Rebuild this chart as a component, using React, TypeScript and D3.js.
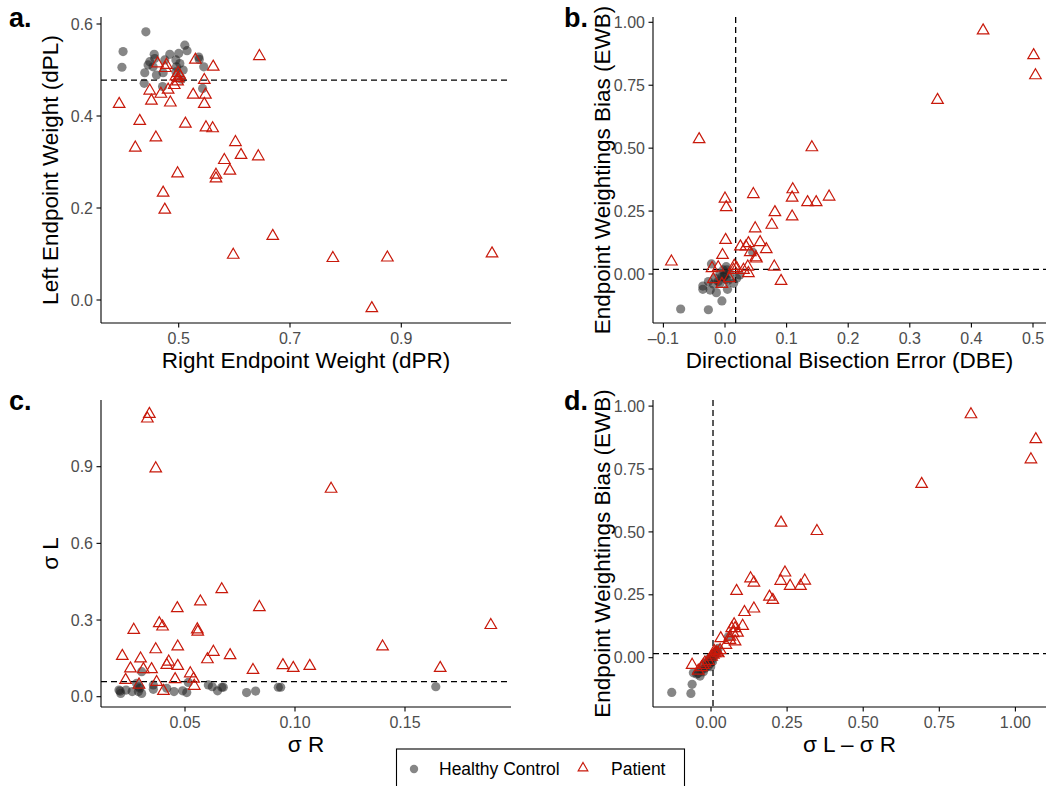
import React from "react";
import * as d3 from "d3";

// ---------- DATA ----------
// Panel a: Right Endpoint Weight (dPR) vs Left Endpoint Weight (dPL)
const aPatients: [number, number][] = [
  [0.645, 0.530], [0.530, 0.522], [0.562, 0.507], [0.462, 0.514], [0.478, 0.511],
  [0.476, 0.504], [0.499, 0.493], [0.499, 0.482], [0.498, 0.475], [0.492, 0.467],
  [0.546, 0.478], [0.448, 0.455], [0.481, 0.457], [0.468, 0.448], [0.526, 0.446],
  [0.548, 0.446], [0.451, 0.433], [0.485, 0.429], [0.546, 0.426], [0.393, 0.426],
  [0.430, 0.389], [0.512, 0.383], [0.549, 0.375], [0.561, 0.373], [0.459, 0.353],
  [0.422, 0.331], [0.602, 0.343], [0.612, 0.315], [0.643, 0.312], [0.582, 0.304],
  [0.592, 0.281], [0.567, 0.272], [0.567, 0.264], [0.498, 0.275], [0.472, 0.233],
  [0.475, 0.196], [0.669, 0.139], [0.598, 0.098], [0.777, 0.091], [0.875, 0.092],
  [1.063, 0.101], [0.847, -0.018], [0.502, 0.488], [0.495, 0.486],
];
const aControls: [number, number][] = [
  [0.441, 0.583], [0.400, 0.540], [0.398, 0.506], [0.456, 0.534], [0.484, 0.534],
  [0.500, 0.536], [0.511, 0.554], [0.515, 0.542], [0.536, 0.528], [0.537, 0.523],
  [0.448, 0.518], [0.445, 0.511], [0.457, 0.525], [0.475, 0.522], [0.495, 0.522],
  [0.496, 0.507], [0.508, 0.500], [0.545, 0.507], [0.439, 0.494], [0.460, 0.489],
  [0.472, 0.494], [0.495, 0.496], [0.505, 0.480], [0.438, 0.471], [0.471, 0.464],
  [0.543, 0.460], [0.454, 0.507], [0.502, 0.514],
];
const aHLine = 0.478;

// Panel b: Directional Bisection Error (DBE) vs Endpoint Weightings Bias (EWB)
const bPatients: [number, number][] = [
  [0.419, 0.967], [0.501, 0.869], [0.504, 0.789], [0.345, 0.691], [-0.042, 0.535],
  [0.141, 0.503], [0.046, 0.317], [0.110, 0.336], [0.109, 0.303], [0.169, 0.307],
  [0.134, 0.285], [0.148, 0.285], [0.000, 0.299], [0.002, 0.265], [0.081, 0.245],
  [0.109, 0.228], [0.076, 0.195], [0.049, 0.181], [0.001, 0.135], [0.025, 0.109],
  [0.038, 0.122], [0.034, 0.109], [0.057, 0.126], [0.067, 0.098], [0.041, 0.086],
  [0.050, 0.066], [0.051, 0.061], [-0.004, 0.075], [-0.087, 0.049], [0.080, 0.029],
  [0.091, -0.028], [0.037, 0.029], [0.038, 0.003], [0.015, 0.032], [0.019, 0.023],
  [0.030, 0.016], [-0.021, 0.023], [-0.011, 0.026], [-0.019, -0.021], [-0.005, -0.040],
  [0.007, -0.017], [0.014, 0.016],
];
const bControls: [number, number][] = [
  [-0.072, -0.139], [-0.027, -0.142], [-0.005, -0.107], [-0.036, -0.048], [-0.036, -0.061],
  [-0.024, -0.064], [-0.014, -0.074], [0.004, -0.061], [-0.022, 0.040], [0.002, 0.029],
  [-0.008, 0.003], [-0.002, -0.011], [0.002, -0.021], [0.014, -0.037], [0.019, -0.017],
  [0.045, 0.086], [-0.016, -0.017], [-0.011, -0.030], [0.008, 0.003], [-0.003, 0.016],
  [-0.008, -0.037], [-0.027, -0.030], [0.005, -0.026], [0.024, -0.004], [-0.005, -0.011],
  [0.000, -0.004], [-0.019, -0.040], [0.003, 0.016],
];
const bVLine = 0.0173;
const bHLine = 0.0185;

// Panel c: sigma R vs sigma L
const cPatients: [number, number][] = [
  [0.0338, 1.106], [0.0329, 1.088], [0.0367, 0.893], [0.1164, 0.813], [0.0667, 0.420],
  [0.0570, 0.372], [0.0465, 0.346], [0.0838, 0.350], [0.0267, 0.261], [0.0383, 0.287],
  [0.0398, 0.274], [0.0556, 0.263], [0.0558, 0.254], [0.189, 0.280], [0.0367, 0.185],
  [0.0467, 0.196], [0.0215, 0.159], [0.0298, 0.149], [0.0426, 0.137], [0.0417, 0.124],
  [0.0629, 0.175], [0.0602, 0.146], [0.0705, 0.162], [0.1398, 0.196], [0.0252, 0.110],
  [0.0311, 0.107], [0.0348, 0.107], [0.0467, 0.120], [0.0809, 0.104], [0.0945, 0.123],
  [0.0992, 0.112], [0.1067, 0.120], [0.166, 0.112], [0.0524, 0.091], [0.0230, 0.065],
  [0.0371, 0.057], [0.0455, 0.068], [0.0539, 0.070], [0.0291, 0.047], [0.0542, 0.042],
  [0.0402, 0.022],
];
const cControls: [number, number][] = [
  [0.0205, 0.022], [0.0208, 0.013], [0.0232, 0.026], [0.0280, 0.052], [0.0288, 0.020],
  [0.0295, 0.033], [0.0303, 0.098], [0.0303, 0.013], [0.0356, 0.029], [0.0356, 0.046],
  [0.0417, 0.033], [0.0450, 0.020], [0.0489, 0.023], [0.0508, 0.016], [0.0515, 0.056],
  [0.0606, 0.046], [0.0624, 0.039], [0.0648, 0.023], [0.0667, 0.037], [0.0674, 0.037],
  [0.0780, 0.016], [0.0821, 0.022], [0.0924, 0.037], [0.0935, 0.037], [0.164, 0.039],
  [0.020, 0.026], [0.026, 0.020], [0.029, 0.039],
];
const cHLine = 0.059;

// Panel d: sigma L - sigma R vs EWB
const dPatients: [number, number][] = [
  [0.854, 0.967], [1.067, 0.868], [1.051, 0.788], [0.692, 0.690], [0.230, 0.536],
  [0.348, 0.503], [0.243, 0.338], [0.130, 0.315], [0.141, 0.298], [0.229, 0.305],
  [0.308, 0.306], [0.260, 0.285], [0.294, 0.285], [0.084, 0.265], [0.192, 0.242],
  [0.203, 0.229], [0.141, 0.195], [0.110, 0.181], [0.076, 0.132], [0.068, 0.117],
  [0.079, 0.117], [0.104, 0.126], [0.087, 0.099], [0.062, 0.083], [0.079, 0.064],
  [0.032, 0.077], [0.049, 0.050], [0.030, 0.030], [0.019, 0.021], [0.013, 0.017],
  [0.008, 0.011], [0.002, 0.004], [0.011, 0.026], [0.024, 0.017], [-0.062, -0.029],
  [-0.025, -0.029], [-0.031, -0.038], [-0.020, -0.020], [-0.009, -0.013], [-0.042, -0.052],
  [0.073, 0.097], [0.062, 0.070],
];
const dControls: [number, number][] = [
  [-0.129, -0.138], [-0.066, -0.142], [-0.062, -0.106], [-0.058, -0.060], [-0.047, -0.065],
  [-0.036, -0.073], [-0.031, -0.049], [-0.020, -0.042], [-0.009, -0.033], [-0.003, -0.023],
  [0.002, -0.009], [0.008, 0.004], [0.019, 0.024], [0.024, 0.037], [0.057, 0.083],
  [-0.012, -0.016], [-0.025, -0.056], [-0.042, -0.062], [-0.005, -0.003], [0.013, 0.013],
  [-0.001, -0.036], [-0.016, -0.025], [0.005, -0.016], [-0.027, -0.033],
];
const dVLine = 0.0066;
const dHLine = 0.016;

// Tick values
const aXTicks = [0.5, 0.7, 0.9];
const aYTicks = [0, 0.2, 0.4, 0.6];
const bXTicks = [-0.1, 0, 0.1, 0.2, 0.3, 0.4, 0.5];
const ewbTicks = [0, 0.25, 0.5, 0.75, 1.0];
const cXTicks = [0.05, 0.1, 0.15];
const cYTicks = [0, 0.3, 0.6, 0.9];
const dXTicks = [0, 0.25, 0.5, 0.75, 1.0];

const legendLabels = ["Healthy Control", "Patient"];

// ---------- STYLE ----------
const FONT = "'Liberation Sans', Arial, Helvetica, sans-serif";
const RED = "#C8190B";
const GRAY_TICK = "#4D4D4D";
const TITLE_SIZE = 22.5;

const fmt = (digits: number) => (v: number) => {
  const s = v.toFixed(digits);
  return v < 0 ? "\u2013" + s.slice(1) : s;
};

type PanelProps = {
  label: string;
  x0: number; x1: number; y0: number; y1: number;
  xCal: [number, number, number, number];
  yCal: [number, number, number, number];
  xTicks: number[]; yTicks: number[];
  xFmt: (v: number) => string; yFmt: (v: number) => string;
  xTitle: string; yTitle: string;
  patients: [number, number][];
  controls: [number, number][];
  hLine?: number; vLine?: number;
  labelX: number;
};

const triPath = d3.symbol(d3.symbolTriangle, 58)() as string;

function Panel(p: PanelProps) {
  const x = d3.scaleLinear().domain([p.xCal[0], p.xCal[2]]).range([p.xCal[1], p.xCal[3]]);
  const y = d3.scaleLinear().domain([p.yCal[0], p.yCal[2]]).range([p.yCal[1], p.yCal[3]]);
  const cx = (p.x0 + p.x1) / 2;
  const cy = (p.y0 + p.y1) / 2;
  const clipId = "clip-" + p.label.replace(".", "");
  return (
    <g>
      <defs>
        <clipPath id={clipId}>
          <rect x={p.x0} y={p.y0} width={p.x1 - p.x0} height={p.y1 - p.y0} />
        </clipPath>
      </defs>
      <text x={p.labelX} y={p.y0 + 10} fontFamily={FONT} fontWeight="bold" fontSize={27} fill="#000">
        {p.label}
      </text>
      <g clipPath={`url(#${clipId})`}>
        {p.hLine !== undefined && (
          <line x1={p.x0} x2={p.x1} y1={y(p.hLine)} y2={y(p.hLine)} stroke="#000" strokeWidth={1.3} strokeDasharray="6,4" />
        )}
        {p.vLine !== undefined && (
          <line x1={x(p.vLine)} x2={x(p.vLine)} y1={p.y0} y2={p.y1} stroke="#000" strokeWidth={1.3} strokeDasharray="6,4" />
        )}
        {p.controls.map((d, i) => (
          <circle key={"c" + i} cx={x(d[0])} cy={y(d[1])} r={4.6} fill="#222" fillOpacity={0.55} />
        ))}
        {p.patients.map((d, i) => (
          <path key={"p" + i} d={triPath} transform={`translate(${x(d[0])},${y(d[1])})`} fill="none" stroke={RED} strokeWidth={1.2} />
        ))}
      </g>
      {/* axes */}
      <line x1={p.x0} x2={p.x1} y1={p.y1} y2={p.y1} stroke="#000" strokeWidth={1.1} />
      <line x1={p.x0} x2={p.x0} y1={p.y0} y2={p.y1} stroke="#000" strokeWidth={1.1} />
      {p.xTicks.map((t) => (
        <g key={"xt" + t}>
          <line x1={x(t)} x2={x(t)} y1={p.y1} y2={p.y1 + 4.5} stroke="#000" strokeWidth={1.1} />
          <text x={x(t)} y={p.y1 + 20.5} textAnchor="middle" fontFamily={FONT} fontSize={16} fill={GRAY_TICK}>
            {p.xFmt(t)}
          </text>
        </g>
      ))}
      {p.yTicks.map((t) => (
        <g key={"yt" + t}>
          <line x1={p.x0 - 4.5} x2={p.x0} y1={y(t)} y2={y(t)} stroke="#000" strokeWidth={1.1} />
          <text x={p.x0 - 8} y={y(t) + 5.6} textAnchor="end" fontFamily={FONT} fontSize={16} fill={GRAY_TICK}>
            {p.yFmt(t)}
          </text>
        </g>
      ))}
      <text x={cx} y={p.y1 + 45} textAnchor="middle" fontFamily={FONT} fontSize={TITLE_SIZE} fill="#000">
        {p.xTitle}
      </text>
      <text transform={`translate(${p.x0 - 43},${cy}) rotate(-90)`} textAnchor="middle" fontFamily={FONT} fontSize={TITLE_SIZE} fill="#000">
        {p.yTitle}
      </text>
    </g>
  );
}

export default function App() {
  const L = { x0: 101, x1: 511 };
  const R = { x0: 653, x1: 1046 };
  const T = { y0: 17, y1: 323 };
  const B = { y0: 400, y1: 707 };
  return (
    <svg width={1049} height={786} style={{ position: "absolute", left: 0, top: 0, background: "#fff" }}>
      <rect x={0} y={0} width={1049} height={786} fill="#fff" />
      <Panel
        label="a." labelX={9}
        {...L} {...T}
        xCal={[0.5, 178.7, 0.9, 401.3]} yCal={[0, 300, 0.6, 24]}
        xTicks={aXTicks} yTicks={aYTicks} xFmt={fmt(1)} yFmt={fmt(1)}
        xTitle="Right Endpoint Weight (dPR)" yTitle="Left Endpoint Weight (dPL)"
        patients={aPatients} controls={aControls} hLine={aHLine}
      />
      <Panel
        label="b." labelX={564}
        {...R} {...T}
        xCal={[0, 725, 0.5, 1033]} yCal={[0, 274, 1, 22.3]}
        xTicks={bXTicks} yTicks={ewbTicks} xFmt={fmt(1)} yFmt={fmt(2)}
        xTitle="Directional Bisection Error (DBE)" yTitle="Endpoint Weightings Bias (EWB)"
        patients={bPatients} controls={bControls} hLine={bHLine} vLine={bVLine}
      />
      <Panel
        label="c." labelX={9}
        {...L} {...B}
        xCal={[0.05, 185, 0.15, 405]} yCal={[0, 696.7, 0.9, 466.7]}
        xTicks={cXTicks} yTicks={cYTicks} xFmt={fmt(2)} yFmt={fmt(1)}
        xTitle={"\u03C3 R"} yTitle={"\u03C3 L"}
        patients={cPatients} controls={cControls} hLine={cHLine}
      />
      <Panel
        label="d." labelX={564}
        {...R} {...B}
        xCal={[0, 711, 1, 1015.4]} yCal={[0, 657.7, 1, 406.1]}
        xTicks={dXTicks} yTicks={ewbTicks} xFmt={fmt(2)} yFmt={fmt(2)}
        xTitle={"\u03C3 L \u2013 \u03C3 R"} yTitle="Endpoint Weightings Bias (EWB)"
        patients={dPatients} controls={dControls} hLine={dHLine} vLine={dVLine}
      />
      {/* legend */}
      <g>
        <rect x={396.5} y={749} width={288} height={45} fill="#fff" stroke="#000" strokeWidth={1.1} />
        <circle cx={414} cy={769} r={4.2} fill="#222" fillOpacity={0.55} />
        <text x={439} y={775} fontFamily={FONT} fontSize={17.5} fill="#000">{legendLabels[0]}</text>
        <path d={d3.symbol(d3.symbolTriangle, 40)() as string} transform="translate(583,768)" fill="none" stroke={RED} strokeWidth={1.2} />
        <text x={611} y={775} fontFamily={FONT} fontSize={17.5} fill="#000">{legendLabels[1]}</text>
      </g>
    </svg>
  );
}
